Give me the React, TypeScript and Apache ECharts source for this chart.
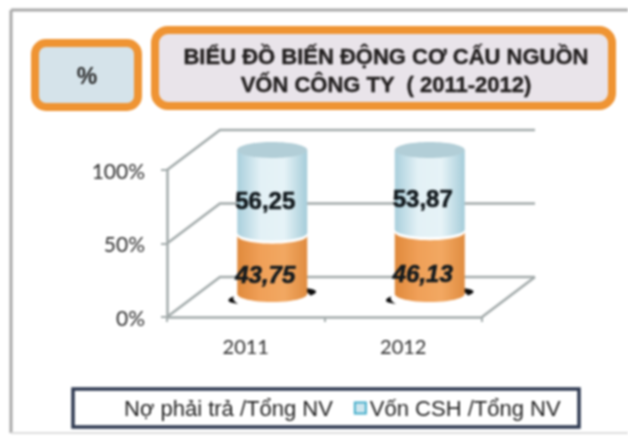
import React, { useEffect, useRef } from "react";
import * as echarts from "echarts";

const categories = ["2011", "2012"];
const debtShare = [43.75, 46.13];
const equityShare = [56.25, 53.87];
const seriesNames = ["Nợ phải trả /Tổng NV", "Vốn CSH /Tổng NV"];
const valueTicks = [0, 50, 100];
const titleLines = "BIỂU ĐỒ BIẾN ĐỘNG CƠ CẤU NGUỒN\nVỐN CÔNG TY  ( 2011-2012)";

const DEPTH_X = 53;
const DEPTH_Y = 40;
const RX = 35;
const RY = 8;
const GRID = "#a3abab";

function arc(cx: number, cy: number, fromRight: boolean) {
  const pts: number[][] = [];
  for (let i = 0; i <= 24; i++) {
    const t = (i / 24) * Math.PI;
    const a = fromRight ? t : Math.PI - t;
    pts.push([cx + RX * Math.cos(a), cy + RY * Math.sin(a)]);
  }
  return pts;
}

function grad(stops: string[]) {
  return new echarts.graphic.LinearGradient(0, 0, 1, 0, stops.map((color, i) => ({ offset: i / (stops.length - 1), color })));
}

function wallsItem(params: any, api: any) {
  const v = api.value(0);
  const y = api.coord([0, v])[1];
  const cs = params.coordSys;
  const x0 = cs.x;
  const x1 = cs.x + cs.width;
  const line = { stroke: GRID, lineWidth: 2.5, fill: "none" };
  const children: any[] = [
    { type: "polyline", shape: { points: [[x0, y], [x0 + DEPTH_X, y - DEPTH_Y], [x1 + DEPTH_X, y - DEPTH_Y]] }, style: line },
  ];
  if (v === 0) {
    children.push({ type: "polyline", shape: { points: [[x1, y], [x1 + DEPTH_X, y - DEPTH_Y]] }, style: line });
  }
  return { type: "group", children };
}

function cylinderItem(kind: "debt" | "equity") {
  return (_params: any, api: any) => {
    const i = api.value(0);
    const [cxFront, yStart] = api.coord([i, api.value(1)]);
    const yEnd = api.coord([i, api.value(2)])[1];
    const cx = cxFront + DEPTH_X / 2;
    const dy = -DEPTH_Y / 2;
    const bottom = yStart + dy;
    const top = yEnd + dy;
    const text = api.value(2) - api.value(1);
    const label = text.toFixed(2).replace(".", ",");
    const children: any[] = [];
    if (kind === "debt") {
      children.push(
        { type: "ellipse", rotation: 0.1, x: cx, y: bottom - 1, shape: { cx: 0, cy: 0, rx: RX + 9, ry: RY - 1 }, style: { fill: "#0c0c0c" } },
        { type: "ellipse", x: cx, y: bottom + 1, shape: { cx: 0, cy: 0, rx: RX + 4, ry: RY + 4 }, style: { fill: "#ffffff" } },
      );
      const pts = [...arc(cx, top + 3, false), ...arc(cx, bottom - 3, true)];
      children.push({ type: "polygon", shape: { points: pts }, style: { fill: grad(["#e08a3c", "#f0a058", "#f2a862", "#e08c40"]) } });
    } else {
      const pts = [[cx - RX, top], [cx + RX, top], ...arc(cx, bottom, true)];
      children.push({ type: "polygon", shape: { points: pts }, style: { fill: grad(["#a9cfdc", "#e3f1f6", "#e6f3f7", "#a5ccd9"]) } });
      children.push({ type: "ellipse", shape: { cx, cy: top, rx: RX, ry: RY }, style: { fill: "#b2ced7" } });
    }
    children.push({
      type: "text",
      x: cx - 7,
      y: (top + bottom) / 2 + RY + (kind === "debt" ? 2 : 1),
      z2: 10,
      style: {
        text: label,
        textAlign: "center",
        textVerticalAlign: "middle",
        fill: "#12191d",
        stroke: "#12191d",
        lineWidth: 0.6,
        font: `${kind === "debt" ? "italic " : ""}bold 24px "Liberation Sans"`,
      },
    });
    return { type: "group", children };
  };
}

export default function App() {
  const ref = useRef<HTMLDivElement>(null);
  useEffect(() => {
    const chart = echarts.init(ref.current!, null, { renderer: "svg" });
    chart.setOption({
      animation: false,
      backgroundColor: "#ffffff",
      grid: { left: 167, top: 170, width: 315, height: 147 },
      xAxis: {
        type: "category",
        data: categories,
        axisLine: { lineStyle: { color: GRID, width: 2.5 } },
        axisTick: { show: true, length: 5, lineStyle: { color: GRID, width: 2 } },
        axisLabel: { color: "#2e2e2e", fontFamily: "Lato", fontSize: 20, margin: 19 },
      },
      yAxis: {
        type: "value",
        min: 0,
        max: 100,
        interval: 50,
        axisLine: { show: true, lineStyle: { color: GRID, width: 2.5 } },
        axisTick: { show: true, length: 6, lineStyle: { color: GRID, width: 2 } },
        splitLine: { show: false },
        axisLabel: { color: "#2e2e2e", fontFamily: "Lato", fontSize: 21, margin: 22, formatter: "{value}%" },
      },
      legend: {
        left: 104,
        top: 392,
        itemGap: 21,
        itemWidth: 11,
        itemHeight: 11,
        icon: "rect",
        textStyle: { color: "#222222", fontFamily: "Liberation Sans", fontSize: 22, padding: [0, 0, 0, -1] },
        data: [
          { name: seriesNames[0], itemStyle: { color: "rgba(255,255,255,0)", borderWidth: 0 } },
          { name: seriesNames[1], itemStyle: { color: "#cfe6ee", borderColor: "#45aecb", borderWidth: 2 } },
        ],
      },
      series: [
        {
          type: "custom",
          name: "walls",
          silent: true,
          z: 1,
          renderItem: wallsItem,
          encode: { y: 0 },
          data: valueTicks.map((v) => [v]),
        },
        {
          type: "custom",
          name: seriesNames[0],
          z: 2,
          itemStyle: { color: "#ee9040" },
          renderItem: cylinderItem("debt"),
          encode: { x: 0, y: [1, 2] },
          data: debtShare.map((v, i) => [i, 0, v]),
        },
        {
          type: "custom",
          name: seriesNames[1],
          z: 3,
          itemStyle: { color: "#cfe6ee" },
          renderItem: cylinderItem("equity"),
          encode: { x: 0, y: [1, 2] },
          data: equityShare.map((v, i) => [i, debtShare[i], debtShare[i] + v]),
        },
      ],
      graphic: [
        { type: "line", shape: { x1: 11, y1: 10, x2: 628, y2: 10 }, style: { stroke: "#a9a9a9", lineWidth: 3 } },
        { type: "line", shape: { x1: 11, y1: 10, x2: 11, y2: 433 }, style: { stroke: "#a9a9a9", lineWidth: 3 } },
        { type: "line", shape: { x1: 11, y1: 433, x2: 628, y2: 433 }, style: { stroke: "#dddddd", lineWidth: 2 } },
        { type: "rect", shape: { x: 35, y: 43, width: 103, height: 64, r: 11 }, style: { fill: "#d5e3ea", stroke: "#ef9433", lineWidth: 8 } },
        { type: "rect", shape: { x: 155, y: 30, width: 457, height: 76, r: 13 }, style: { fill: "#e9e4ea", stroke: "#ef9433", lineWidth: 8 } },
        { type: "text", style: { x: 87, y: 76, text: "%", textAlign: "center", textVerticalAlign: "middle", fill: "#262626", font: 'bold 23px "Liberation Sans"' } },
        { type: "text", style: { x: 386, y: 70, text: titleLines, textAlign: "center", textVerticalAlign: "middle", lineHeight: 28, fill: "#221f1f", stroke: "#221f1f", lineWidth: 0.4, font: 'bold 22px "Liberation Sans"' } },
        { type: "rect", shape: { x: 73, y: 389, width: 506, height: 38 }, style: { fill: "#ffffff", stroke: "#2f3a52", lineWidth: 3.5 } },
      ],
    });
    return () => chart.dispose();
  }, []);
  return (
    <div
      ref={ref}
      style={{ position: "absolute", left: 0, top: 0, width: 628, height: 438, filter: "blur(0.9px)" }}
    />
  );
}
